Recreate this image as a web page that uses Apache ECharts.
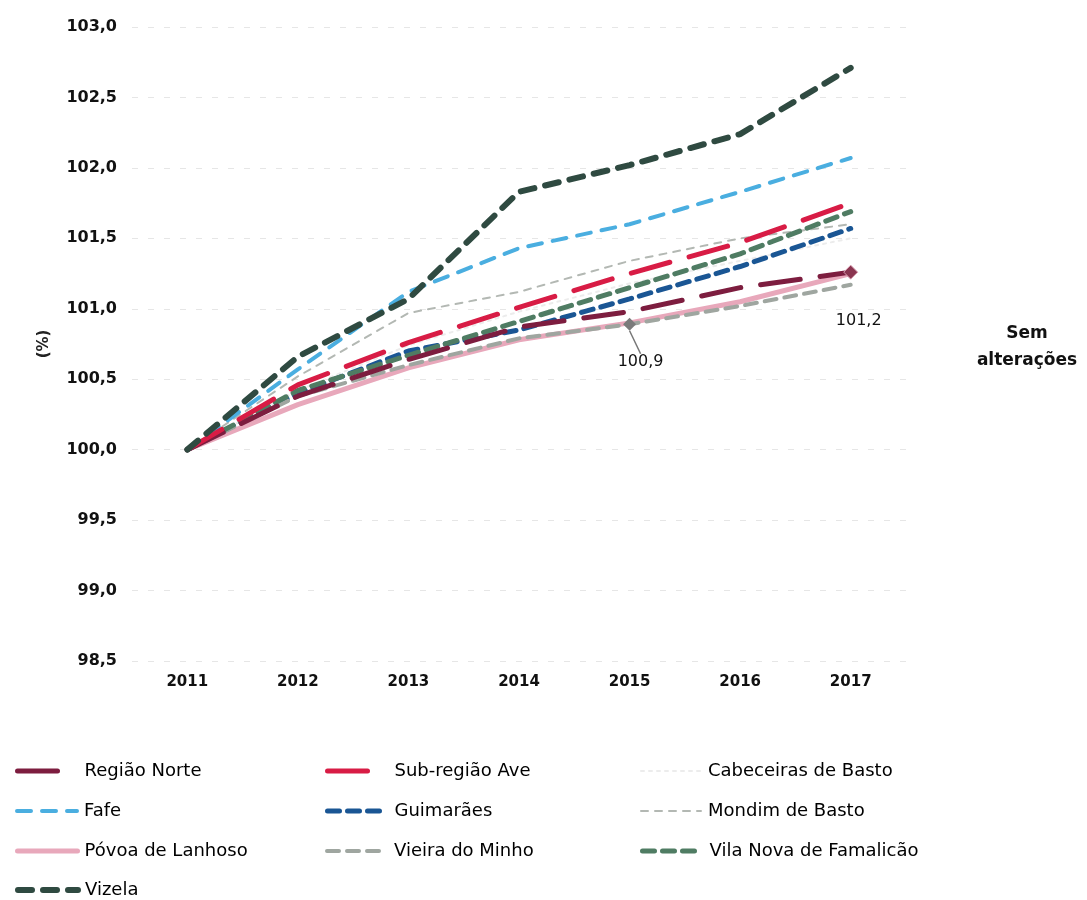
<!DOCTYPE html>
<html>
<head>
<meta charset="utf-8">
<script src="https://cdn.jsdelivr.net/npm/echarts@6/dist/echarts.min.js"></script>
<style>html,body{margin:0;padding:0;background:#fff;}#c{width:1087px;height:900px;}</style>
</head>
<body>
<div id="c"></div>
<script>
const years = ['2011','2012','2013','2014','2015','2016','2017'];
const regiaoNorte = [100.0, 100.38, 100.64, 100.87, 100.98, 101.15, 101.26];
const subRegiaoAve = [100.0, 100.46, 100.76, 101.01, 101.25, 101.47, 101.75];
const cabeceirasBasto = [100.0, 100.42, 100.74, 100.98, 101.18, 101.34, 101.5];
const fafe = [100.0, 100.57, 101.12, 101.43, 101.6, 101.83, 102.07];
const guimaraes = [100.0, 100.4, 100.7, 100.85, 101.07, 101.3, 101.57];
const mondimBasto = [100.0, 100.52, 100.97, 101.12, 101.34, 101.5, 101.6];
const povoaLanhoso = [100.0, 100.32, 100.58, 100.78, 100.9, 101.05, 101.25];
const vieiraMinho = [100.0, 100.38, 100.6, 100.79, 100.89, 101.02, 101.17];
const famalicao = [100.0, 100.42, 100.67, 100.91, 101.15, 101.39, 101.69];
const vizela = [100.0, 100.66, 101.07, 101.83, 102.02, 102.24, 102.71];
const annotationTexts = ['100,9', '101,2'];
const sideText = ['Sem', 'alterações'];

const fmt = v => v.toFixed(1).replace('.', ',');

function mk(name, data, color, width, type, extra) {
  return Object.assign({
    name: name,
    type: 'line',
    data: data,
    symbol: 'none',
    lineStyle: { color: color, width: width, type: type, cap: 'round' },
    itemStyle: { color: color },
    emphasis: { disabled: true },
    z: 2
  }, extra || {});
}

const vieiraData = vieiraMinho.map((v, i) => i === 4 ? {
  value: v, symbol: 'diamond', symbolSize: 13,
  itemStyle: { color: '#7b7b7b' },
  label: { show: true, position: 'bottom', formatter: annotationTexts[0], color: '#111', fontSize: 16, fontFamily: 'DejaVu Sans' }
} : v);

const norteData = regiaoNorte.map((v, i) => i === 6 ? {
  value: v, symbol: 'diamond', symbolSize: 14,
  itemStyle: { color: '#8a3550', borderColor: '#d9a0b2', borderWidth: 1 },
  label: { show: true, position: 'bottom', formatter: annotationTexts[1], color: '#111', fontSize: 16, fontFamily: 'DejaVu Sans' }
} : v);

const series = [
  mk('Região Norte', norteData, '#7d1d3f', 5, [40, 20], { z: 4, labelLayout: { dx: 8, dy: 28 } }),
  mk('Sub-região Ave', subRegiaoAve, '#d81c45', 5, [40, 20], { z: 4 }),
  mk('Cabeceiras de Basto', cabeceirasBasto, '#ececec', 2, [3, 5]),
  mk('Fafe', fafe, '#4aaee0', 4, [14, 11], { z: 3 }),
  mk('Guimarães', guimaraes, '#1a5694', 5, [12, 8], { z: 3 }),
  mk('Mondim de Basto', mondimBasto, '#b3b8b3', 2, [7, 7]),
  mk('Póvoa de Lanhoso', povoaLanhoso, '#e8a8bb', 5, 'solid', { z: 2 }),
  mk('Vieira do Minho', vieiraData, '#9fa6a0', 4, [12, 8], { z: 3,
      labelLayout: { dx: 11, dy: 18 },
      labelLine: { show: true, lineStyle: { color: '#777', width: 1.5 } } }),
  mk('Vila Nova de Famalicão', famalicao, '#4f7c63', 5, [12, 8], { z: 3 }),
  mk('Vizela', vizela, '#2f4a41', 6, [14, 11], { z: 5 })
];

// legend grid: 3 columns, row-major, in series order
const legendColLefts = [15, 325, 640];
const legendRowCenters = [772, 812, 852, 891];
const legends = series.map((s, i) => ({
  data: [{ name: s.name, lineStyle: { width: s.lineStyle.width } }],
  left: legendColLefts[i % 3],
  top: legendRowCenters[Math.floor(i / 3)] - 10,
  orient: 'horizontal',
  padding: 0,
  itemWidth: 60,
  itemHeight: 20,
  selectedMode: false,
  itemStyle: { opacity: 0 },
  textStyle: { fontSize: 18, color: '#000', fontFamily: 'DejaVu Sans', padding: [0, 0, 0, 2] }
}));

const chart = echarts.init(document.getElementById('c'), null, { renderer: 'canvas' });
chart.setOption({
  backgroundColor: '#fff',
  animation: false,
  grid: { left: 132, width: 774, top: 27, bottom: 239, containLabel: false },
  xAxis: {
    type: 'category',
    data: years,
    boundaryGap: true,
    axisLine: { show: false },
    axisTick: { show: false },
    axisLabel: { color: '#111', fontSize: 15, fontWeight: 'bold', fontFamily: 'DejaVu Sans', margin: 14 }
  },
  yAxis: {
    type: 'value',
    min: 98.5, max: 103, interval: 0.5,
    name: '(%)',
    nameLocation: 'middle',
    nameRotate: 90,
    nameGap: 80,
    nameTextStyle: { color: '#222', fontSize: 15, fontWeight: 'bold', fontFamily: 'DejaVu Sans' },
    axisLine: { show: false },
    axisTick: { show: false },
    axisLabel: { color: '#111', fontSize: 16, fontWeight: 'bold', fontFamily: 'DejaVu Sans', margin: 15, formatter: fmt },
    splitLine: { show: true, lineStyle: { color: '#e6e6e6', type: [6, 10], width: 1 } }
  },
  legend: legends,
  graphic: [
    { type: 'text', x: 1027, y: 320, style: { text: sideText[0] + '\n' + sideText[1], fill: '#111', font: 'bold 17px "DejaVu Sans"', align: 'center', lineHeight: 27 } }
  ],
  series: series
});
</script>
</body>
</html>
